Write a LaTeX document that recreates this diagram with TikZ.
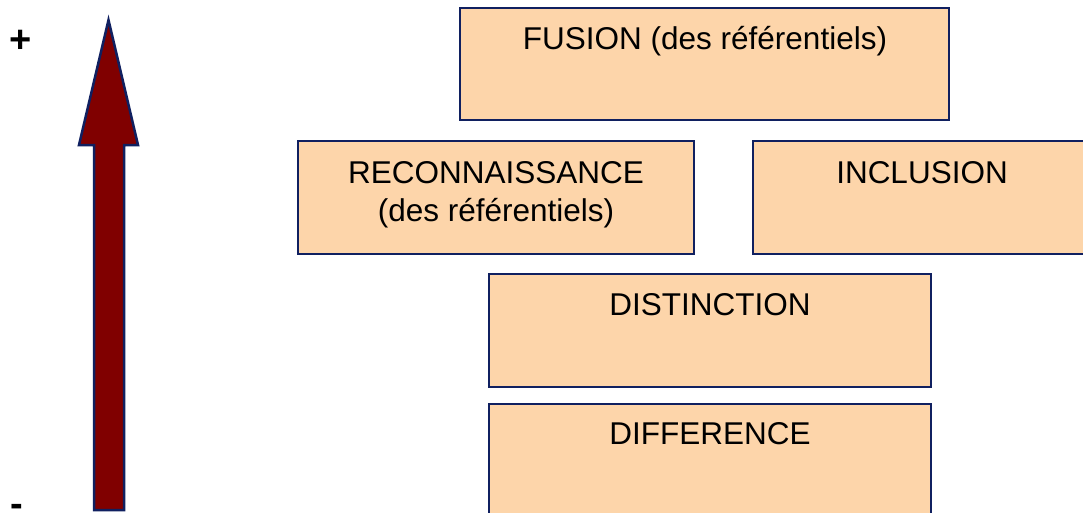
\documentclass[tikz,border=0pt]{standalone}
\usepackage{fontspec}
\setmainfont{Liberation Sans}
\definecolor{peach}{RGB}{253,213,170}
\definecolor{navy}{RGB}{16,32,96}
\definecolor{maroon}{RGB}{128,0,0}
\tikzset{
  box/.style={draw=navy, fill=peach, line width=2.5pt, anchor=north west, inner sep=0pt, outer sep=0pt},
  lbl/.style={font=\fontsize{31.5}{37.5}\selectfont, anchor=base, inner sep=0pt},
  sign/.style={font=\fontsize{38}{40}\selectfont\bfseries, anchor=base, inner sep=0pt},
}
\begin{document}
\begin{tikzpicture}[x=1pt,y=-1pt]
\clip (0,0) rectangle (1083,512);
\fill[white] (0,0) rectangle (1083,512);
% arrow
\draw[fill=maroon, draw=navy, line width=2.5pt, line join=miter]
  (108.5,20) -- (138,145) -- (124,145) -- (124,510) -- (94,510) -- (94,145) -- (79,145) -- cycle;
\node[sign] (plus) at (21,52.5) {+};
\node[sign] (minus) at (17,516) {-};
% boxes
\node[box, minimum width=489pt, minimum height=112pt] (fusion) at (460,8) {};
\node[box, minimum width=396pt, minimum height=113pt] (recon) at (298,141) {};
\node[box, minimum width=338pt, minimum height=113pt] (incl) at (753,141) {};
\node[box, minimum width=442pt, minimum height=113pt] (dist) at (489,274) {};
\node[box, minimum width=442pt, minimum height=130pt] (diff) at (489,404) {};
% labels
\node[lbl] (fusionT) at (705,49) {FUSION (des référentiels)};
\node[lbl] (reconT1) at (496,183) {RECONNAISSANCE};
\node[lbl] (reconT2) at (496,221) {(des référentiels)};
\node[lbl] (inclT) at (922,183) {INCLUSION};
\node[lbl] (distT) at (710,315) {DISTINCTION};
\node[lbl] (diffT) at (710,444) {DIFFERENCE};
\end{tikzpicture}
\end{document}
